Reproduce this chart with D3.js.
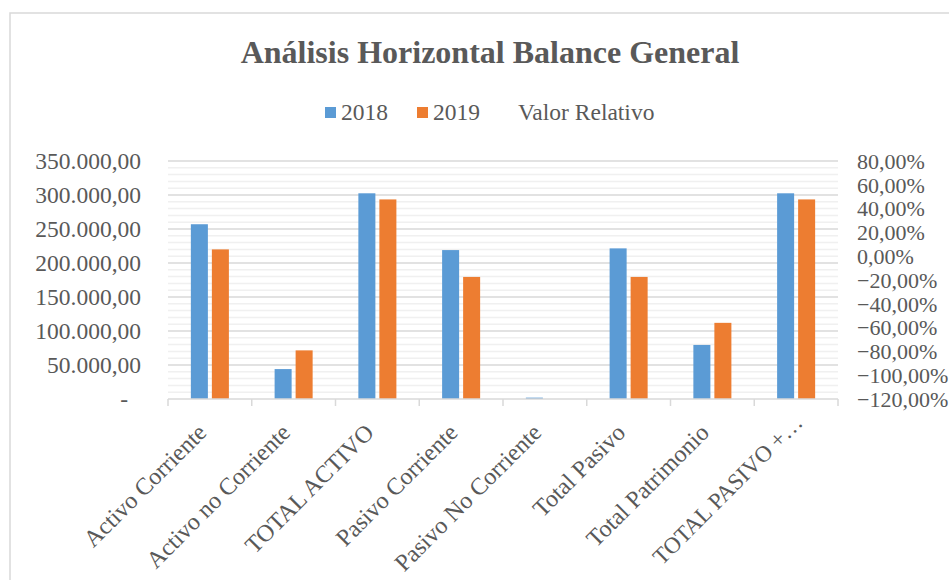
<!DOCTYPE html>
<html>
<head>
<meta charset="utf-8">
<script src="https://cdn.jsdelivr.net/npm/d3@7"></script>
<style>
  html, body { margin: 0; padding: 0; background: #fff; }
  svg { display: block; }
  text { font-family: "Liberation Serif", "Times New Roman", serif; fill: #595959; }
</style>
</head>
<body>
<svg id="chart" width="949" height="580"></svg>
<script>
const categories = ["Activo Corriente", "Activo no Corriente", "TOTAL ACTIVO", "Pasivo Corriente",
  "Pasivo No Corriente", "Total Pasivo", "Total Patrimonio", "TOTAL PASIVO +…"];
const series = ["2018", "2019"];
const values2018 = [257000, 44000, 302500, 219000, 2000, 221500, 79500, 302500];
const values2019 = [220000, 71500, 293500, 179500, 0, 179500, 112000, 293500];
const leftTicks = [0, 50000, 100000, 150000, 200000, 250000, 300000, 350000];
const rightTicks = [-1.2, -1.0, -0.8, -0.6, -0.4, -0.2, 0, 0.2, 0.4, 0.6, 0.8];
const colors = ["#5b9bd5", "#ed7d31"];
const title = "Análisis Horizontal Balance General";
const legendExtra = "Valor Relativo";

const svg = d3.select("#chart");
const L = 168, R = 838, T = 161, B = 399;

// chart border
svg.append("rect").attr("x", 10).attr("y", 13).attr("width", 960).attr("height", 600)
  .attr("fill", "none").attr("stroke", "#d9d9d9").attr("stroke-width", 1.5);

const x0 = d3.scaleBand().domain(categories).range([L, R]).paddingInner(0.546).paddingOuter(0.273);
const x1 = d3.scaleBand().domain(series).range([0, x0.bandwidth()]).paddingInner(0.19);
const y = d3.scaleLinear().domain([0, 350000]).range([B, T]);
const y2 = d3.scaleLinear().domain([-1.2, 0.8]).range([B, T]);

// minor gridlines
const minor = d3.range(0, 350001, 10000).filter(v => v % 50000 !== 0);
svg.append("g").selectAll("line").data(minor).join("line")
  .attr("x1", L).attr("x2", R).attr("y1", d => y(d)).attr("y2", d => y(d))
  .attr("stroke", "#f0f0f0").attr("stroke-width", 1.5);
// major gridlines
svg.append("g").selectAll("line").data(leftTicks.filter(v => v > 0)).join("line")
  .attr("x1", L).attr("x2", R).attr("y1", d => y(d)).attr("y2", d => y(d))
  .attr("stroke", "#d9d9d9").attr("stroke-width", 1.5);

// bars
const rows = categories.map((c, i) => ({ cat: c, vals: [values2018[i], values2019[i]] }));
const g = svg.append("g");
rows.forEach(r => {
  r.vals.forEach((v, j) => {
    if (v <= 0) return;
    g.append("rect")
      .attr("x", x0(r.cat) + x1(series[j]))
      .attr("y", y(v))
      .attr("width", x1.bandwidth())
      .attr("height", y(0) - y(v))
      .attr("fill", colors[j]);
  });
});

// x axis line + ticks
svg.append("line").attr("x1", L).attr("x2", R).attr("y1", B).attr("y2", B)
  .attr("stroke", "#d9d9d9").attr("stroke-width", 1.5);
const step = x0.step();
const boundaries = d3.range(categories.length + 1).map(i => L + i * step);
svg.append("g").selectAll("line").data(boundaries).join("line")
  .attr("x1", d => d).attr("x2", d => d).attr("y1", B).attr("y2", B + 7)
  .attr("stroke", "#d9d9d9").attr("stroke-width", 1.5);

// left axis labels
const fmt = v => v === 0 ? "-" : d3.format(",.2f")(v).replace(/,/g, "#").replace(/\./g, ",").replace(/#/g, ".");
svg.append("g").selectAll("text").data(leftTicks).join("text")
  .attr("x", d => d === 0 ? 128 : 141).attr("y", d => y(d)).attr("dy", "0.35em")
  .attr("text-anchor", "end").attr("font-size", 23.5)
  .text(fmt);

// right axis labels
const pfmt = v => d3.format(".2f")(v * 100).replace(".", ",") + "%";
svg.append("g").selectAll("text").data(rightTicks).join("text")
  .attr("x", 857).attr("y", d => y2(d)).attr("dy", "0.35em")
  .attr("text-anchor", "start").attr("font-size", 22)
  .text(pfmt);

// category labels
svg.append("g").selectAll("text").data(categories).join("text")
  .attr("text-anchor", "end")
  .attr("font-size", d => d.endsWith("…") ? 23 : 24)
  .attr("dx", d => d.endsWith("…") ? 14 : 0)
  .attr("transform", d => `translate(${x0(d) + x0.bandwidth() / 2 - 2},${B + 35}) rotate(-45)`)
  .text(d => d);

// title
svg.append("text").attr("x", 490).attr("y", 63).attr("text-anchor", "middle")
  .attr("font-size", 32).attr("font-weight", "bold").text(title);

// legend
const leg = svg.append("g");
const legItems = [
  { label: series[0], color: colors[0], x: 325 },
  { label: series[1], color: colors[1], x: 417 },
];
legItems.forEach(it => {
  leg.append("rect").attr("x", it.x).attr("y", 107).attr("width", 11).attr("height", 11).attr("fill", it.color);
  leg.append("text").attr("x", it.x + 16).attr("y", 120).attr("font-size", 23.5).text(it.label);
});
leg.append("text").attr("x", 518).attr("y", 120).attr("font-size", 23.5).text(legendExtra);
</script>
</body>
</html>
